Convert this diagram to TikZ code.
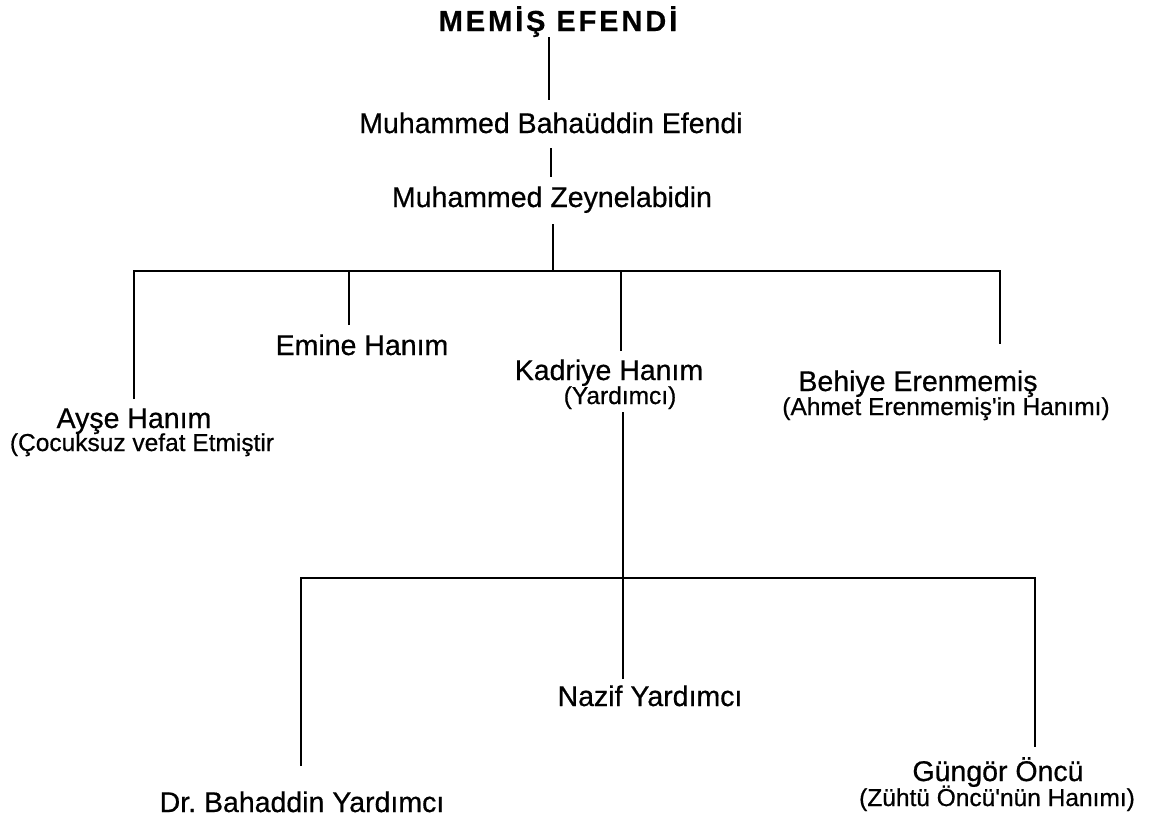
\documentclass[tikz,border=0pt]{standalone}
\usepackage{fontspec}
\setmainfont{Liberation Sans}[UprightFeatures={FakeBold=0.6}]
\newfontfamily\titlefont{Liberation Sans}[LetterSpace=10, BoldFeatures={FakeBold=0.4}]
\begin{document}
\begin{tikzpicture}[x=1pt,y=-1pt,
  ln/.style={line width=2.8pt},
  ttl/.style={inner sep=0pt, anchor=base, font=\titlefont\bfseries\fontsize{29}{32}\selectfont},
  txt/.style={inner sep=0pt, anchor=base, font=\fontsize{28.5}{32}\selectfont},
  sub/.style={inner sep=0pt, anchor=base, font=\fontsize{24.5}{28}\selectfont}]
\useasboundingbox (0,0) rectangle (1167,820);
\fill[white] (0,0) rectangle (1167,820);
% nodes
\node[ttl] (t) at (558,31) {MEMİŞ EFENDİ};
\node[txt] (mbe) at (551,133) {Muhammed Bahaüddin Efendi};
\node[txt] (mz) at (552,207) {Muhammed Zeynelabidin};
\node[txt] (ay) at (134,428) {Ayşe Hanım};
\node[sub] (ays) at (142,451) {(Çocuksuz vefat Etmiştir};
\node[txt] (em) at (362,355) {Emine Hanım};
\node[txt] (kd) at (609,380) {Kadriye Hanım};
\node[sub] (kds) at (620,404) {(Yardımcı)};
\node[txt] (bh) at (918,391) {Behiye Erenmemiş};
\node[sub] (bhs) at (946,415) {(Ahmet Erenmemiş\textquotesingle in Hanımı)};
\node[txt] (dr) at (302,812) {Dr.\ Bahaddin Yardımcı};
\node[txt] (nz) at (650,706) {Nazif Yardımcı};
\node[txt] (gn) at (998,781) {Güngör Öncü};
\node[sub] (gns) at (997,806) {(Zühtü Öncü\textquotesingle nün Hanımı)};
% junctions
\coordinate (j1) at (553,271);
\coordinate (j2) at (623,578);
% connectors
\draw[ln] ([xshift=-9pt]t.south) -- ([xshift=-2pt,yshift=12pt]mbe.north);
\draw[ln] ([yshift=-15pt]mbe.south) -- ([xshift=-1pt,yshift=9pt]mz.north);
\draw[ln] ([xshift=1pt,yshift=-11pt]mz.south) -- (j1);
\draw[ln] ([yshift=9pt]ay.north) |- (j1) -| ([xshift=82pt,yshift=26pt]bh.north);
\draw[ln] ([xshift=-13pt,yshift=9pt]em.north) |- (j1);
\draw[ln] ([xshift=12pt,yshift=8pt]kd.north) |- (j1);
\draw[ln] ([xshift=3pt,yshift=-3pt]kds.south) -- (j2);
\draw[ln] ([xshift=-1pt,yshift=25pt]dr.north) |- (j2) -| ([xshift=37pt,yshift=10pt]gn.north);
\draw[ln] ([xshift=-27pt,yshift=6pt]nz.north) -- (j2);
\end{tikzpicture}
\end{document}
